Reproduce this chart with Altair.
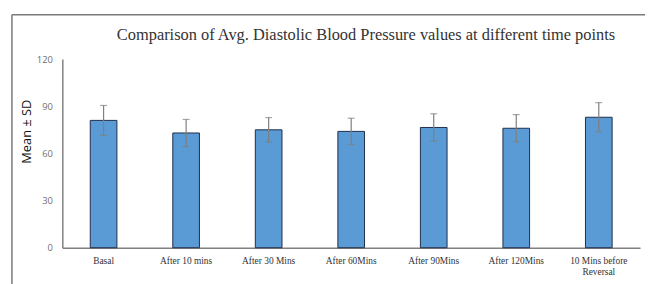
import altair as alt
import pandas as pd

categories = ["Basal", "After 10 mins", "After 30 Mins", "After 60Mins",
              "After 90Mins", "After 120Mins", "10 Mins before Reversal"]
means = [81.0, 73.0, 75.0, 74.0, 76.5, 76.0, 83.0]
sds = [9.5, 8.6, 7.8, 8.4, 8.7, 8.7, 9.3]
y_ticks = [0, 30, 60, 90, 120]

df = pd.DataFrame({"cat": categories, "mean": means, "sd": sds})
df["lo"] = df["mean"] - df["sd"]
df["hi"] = df["mean"] + df["sd"]

x_enc = alt.X("cat:N", sort=categories, title=None,
              scale=alt.Scale(paddingInner=0.677, paddingOuter=0.3385),
              axis=alt.Axis(labelAngle=0, labelFont="Liberation Serif", labelFontSize=9.5,
                            labelColor="#333333", ticks=False, labelPadding=8,
                            domainColor="#808080", domainWidth=1.5,
                            labelExpr="datum.label == '10 Mins before Reversal' ? ['10 Mins before', 'Reversal'] : datum.label"))

base = alt.Chart(df)

bars = base.mark_bar(color="#5b9bd5", stroke="#1f2d4a", strokeWidth=1).encode(
    x=x_enc,
    y=alt.Y("mean:Q", title="Mean ± SD",
            scale=alt.Scale(domain=[0, 120], nice=False),
            axis=alt.Axis(values=y_ticks, grid=False, ticks=False, labelPadding=10,
                          labelFont="Open Sans", labelFontSize=9.5, labelColor="#707070",
                          domainColor="#808080", domainWidth=1.5,
                          titleFont="Open Sans", titleFontSize=13, titleFontWeight="normal",
                          titleColor="#111111", titleX=-36, titleY=73, titleAngle=-90,
                          titleAlign="center", titleBaseline="middle")),
)

err = base.mark_rule(color="#7f7f7f", strokeWidth=1.2).encode(
    x=alt.X("cat:N", sort=categories), y="lo:Q", y2="hi:Q")
cap_lo = base.mark_tick(color="#7f7f7f", thickness=1.2, size=7, orient="horizontal").encode(
    x=alt.X("cat:N", sort=categories), y="lo:Q")
cap_hi = base.mark_tick(color="#7f7f7f", thickness=1.2, size=7, orient="horizontal").encode(
    x=alt.X("cat:N", sort=categories), y="hi:Q")

frame_left = alt.Chart(pd.DataFrame({"k": [0]})).mark_rule(color="#7a7a7a", strokeWidth=1.5).encode(
    x=alt.value(-51), y=alt.value(-45), y2=alt.value(230))
frame_top = alt.Chart(pd.DataFrame({"k": [0]})).mark_rule(color="#7a7a7a", strokeWidth=1.5).encode(
    x=alt.value(-51), x2=alt.value(595), y=alt.value(-45))

chart = alt.layer(bars, err, cap_lo, cap_hi, frame_left, frame_top).properties(
    width=585, height=191,
    autosize=alt.AutoSizeParams(type="none"),
    padding={"left": 55, "top": 50, "right": 5, "bottom": 35},
    title=alt.TitleParams(
        "Comparison of Avg. Diastolic Blood Pressure values at different time points",
        font="Liberation Serif", fontSize=16.6, fontWeight="normal", color="#333333",
        anchor="middle", dx=15, dy=44, offset=14),
).configure_view(stroke=None)

chart.save("out.html", embed_options={"renderer": "svg", "actions": False})
